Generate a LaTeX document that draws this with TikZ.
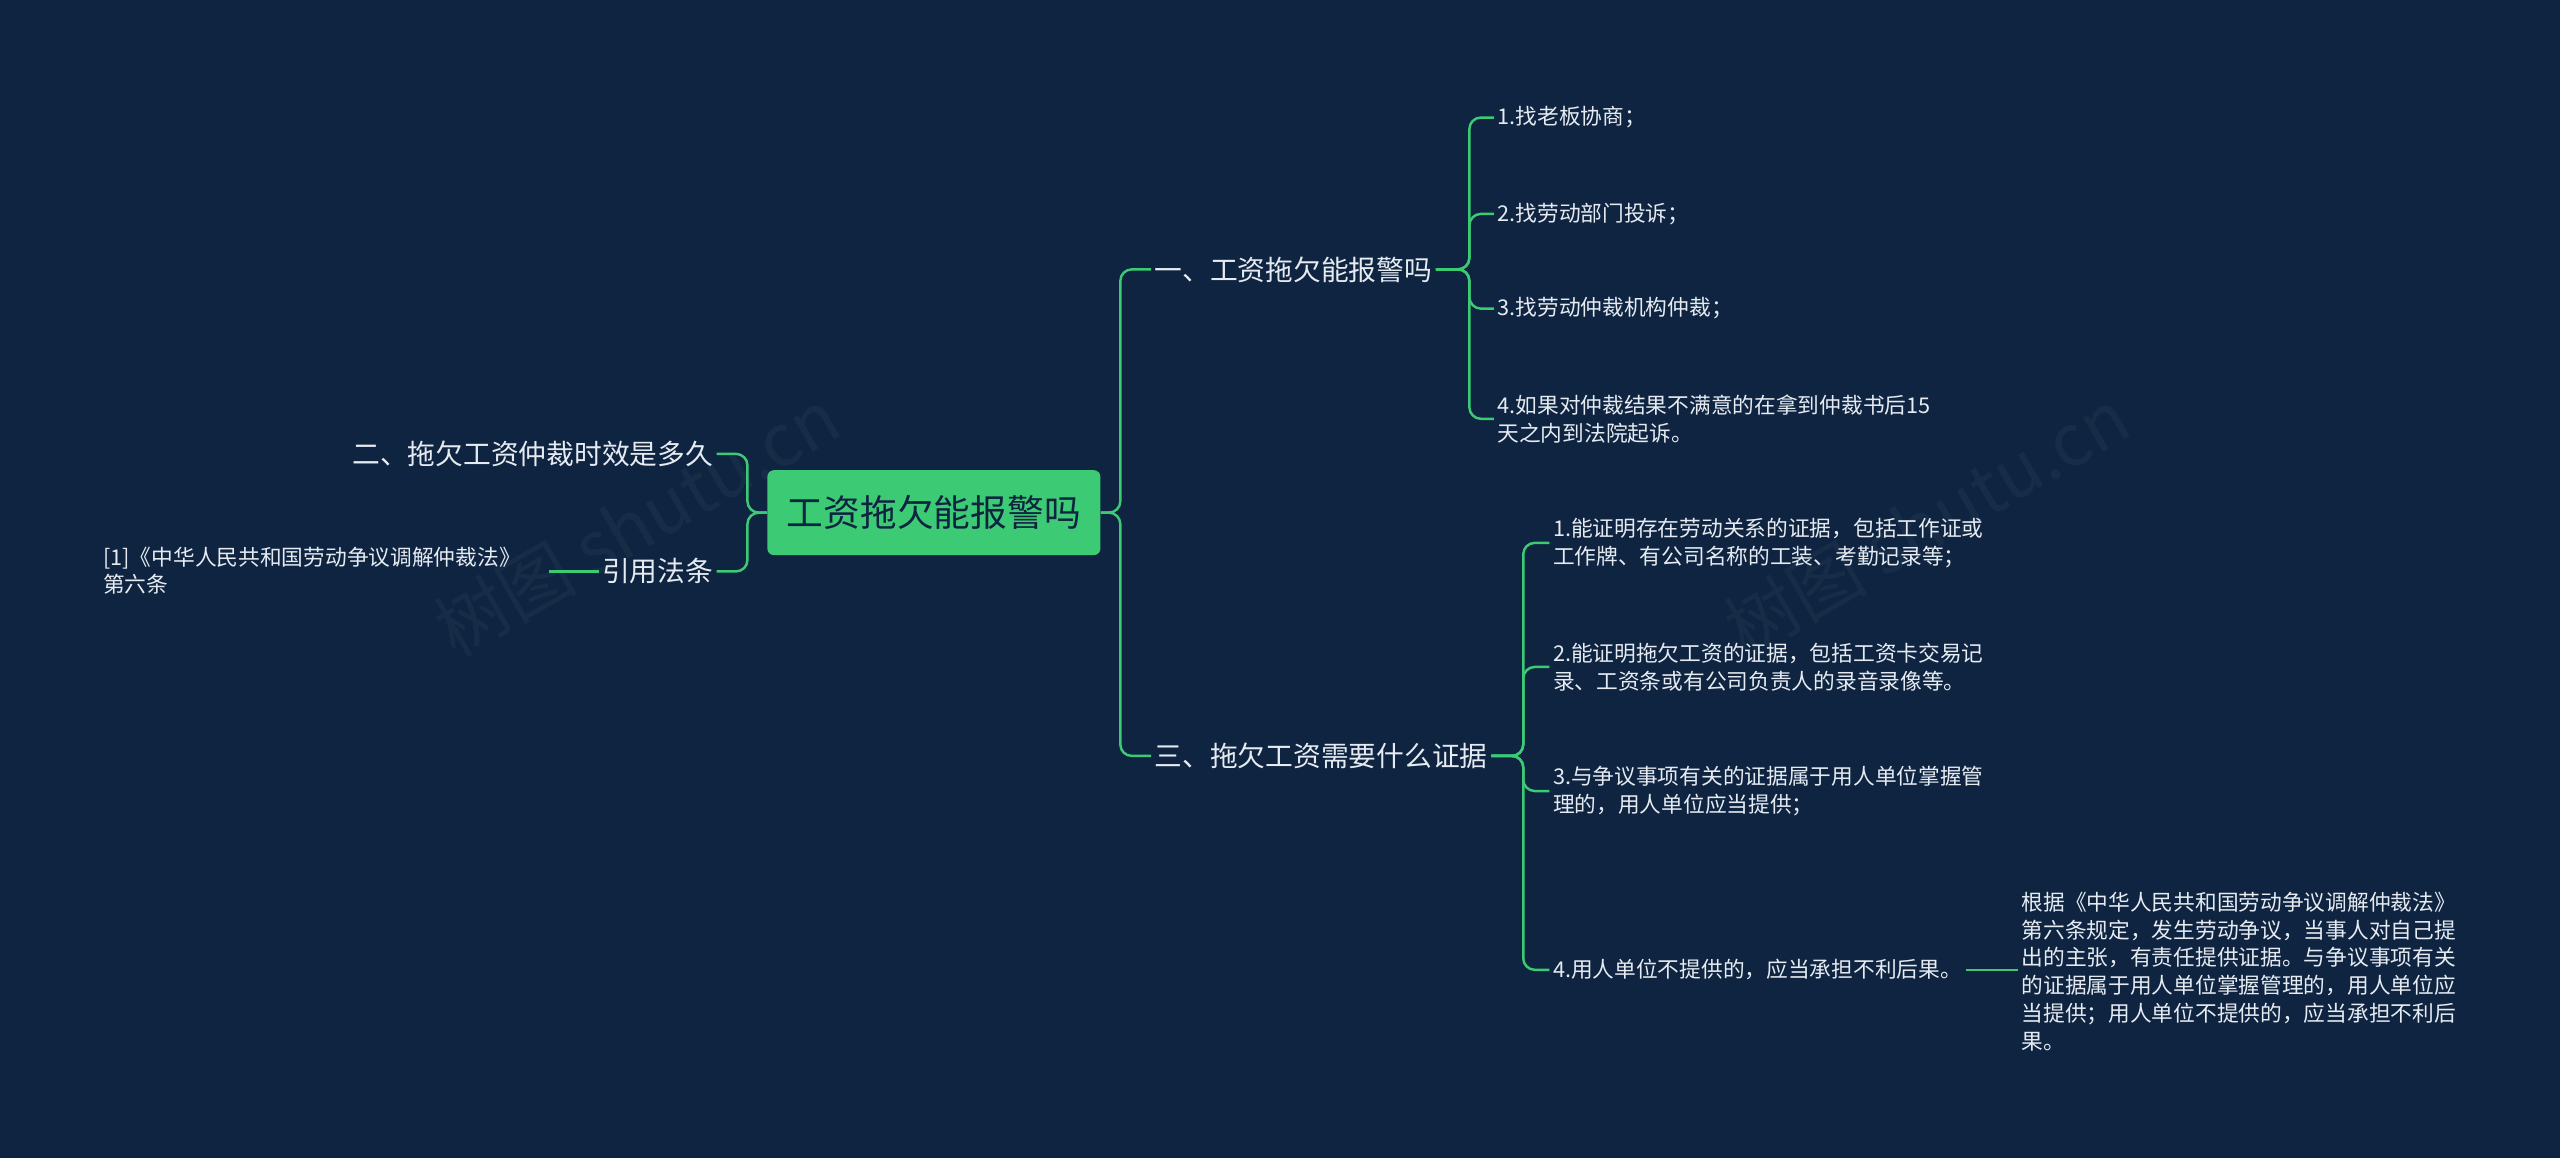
\documentclass[tikz,border=0pt]{standalone}
\usepackage{fontspec}
\setmainfont{Noto Sans CJK SC}
\usetikzlibrary{positioning}
\definecolor{bgnavy}{HTML}{0E2440}
\definecolor{linegreen}{HTML}{3CCB74}
\definecolor{txtwhite}{HTML}{E6EBF2}
\tikzset{
  topic/.style={fill=linegreen,rounded corners=4pt,minimum width=204pt,minimum height=52pt,text=bgnavy,font=\fontsize{22.5}{26}\selectfont},
  branch/.style={text=txtwhite,inner sep=2pt,font=\fontsize{17}{20}\selectfont},
  leaf/.style={text=txtwhite,inner sep=2pt,align=left,anchor=west,font=\fontsize{13.3}{17}\selectfont},
  link/.style={draw=linegreen,line width=1.5pt,rounded corners=7pt},
  wmark/.style={text=white,opacity=0.04,rotate=30,font=\fontsize{44}{50}\selectfont}
}
\begin{document}
\begin{tikzpicture}[x=1pt,y=-1pt]
		\fill[bgnavy] (0,0) rectangle (1568,709);
		\useasboundingbox (0,0) rectangle (1568,709);
		% watermarks
		\node[wmark] (wma) at (390,320) {树图 shutu.cn};
		\node[wmark] (wmb) at (1180,320) {树图 shutu.cn};
		% centre
		\node[topic] (root) at (572,314) {工资拖欠能报警吗};
		% right side
		\node[branch,anchor=west] (bone) at (705,165) {一、工资拖欠能报警吗};
		\node[branch,anchor=west] (bthree) at (705,463) {三、拖欠工资需要什么证据};
		\node[leaf] (lone) at (915,72) {1.找老板协商；};
		\node[leaf] (ltwo) at (915,131) {2.找劳动部门投诉；};
		\node[leaf] (lthree) at (915,189) {3.找劳动仲裁机构仲裁；};
		\node[leaf] (lfour) at (915,256.5) {4.如果对仲裁结果不满意的在拿到仲裁书后15\\天之内到法院起诉。};
		\node[leaf] (eone) at (949,332.5) {1.能证明存在劳动关系的证据，包括工作证或\\工作牌、有公司名称的工装、考勤记录等；};
		\node[leaf] (etwo) at (949,408.5) {2.能证明拖欠工资的证据，包括工资卡交易记\\录、工资条或有公司负责人的录音录像等。};
		\node[leaf] (ethree) at (949,484.5) {3.与争议事项有关的证据属于用人单位掌握管\\理的，用人单位应当提供；};
		\node[leaf] (efour) at (949,594) {4.用人单位不提供的，应当承担不利后果。};
		\node[leaf] (note) at (1236,595) {根据《中华人民共和国劳动争议调解仲裁法》\\第六条规定，发生劳动争议，当事人对自己提\\出的主张，有责任提供证据。与争议事项有关\\的证据属于用人单位掌握管理的，用人单位应\\当提供；用人单位不提供的，应当承担不利后\\果。};
		% left side
		\node[branch,anchor=east] (btwo) at (439,278) {二、拖欠工资仲裁时效是多久};
		\node[branch,anchor=east] (bcite) at (439,350) {引用法条};
		\node[leaf] (law) at (61,349.5) {[1]《中华人民共和国劳动争议调解仲裁法》\\第六条};
		\coordinate (citeend) at (336,350);
		% connectors
		\draw[link] (root.east) -- ++(12,0) |- (bone.west);
		\draw[link] (root.east) -- ++(12,0) |- (bthree.west);
		\draw[link] (root.west) -- ++(-12,0) |- (btwo.east);
		\draw[link] (root.west) -- ++(-12,0) |- (bcite.east);
		\foreach \n in {lone,ltwo,lthree,lfour}
			\draw[link] (bone.east) -- (900,165) |- (\n.west);
		\foreach \n in {eone,etwo,ethree,efour}
			\draw[link] (bthree.east) -- (933,463) |- (\n.west);
		\draw[link] (efour.east) -- (note.west |- efour.east);
		\draw[link] (bcite.west) -- (citeend);
\end{tikzpicture}
\end{document}
